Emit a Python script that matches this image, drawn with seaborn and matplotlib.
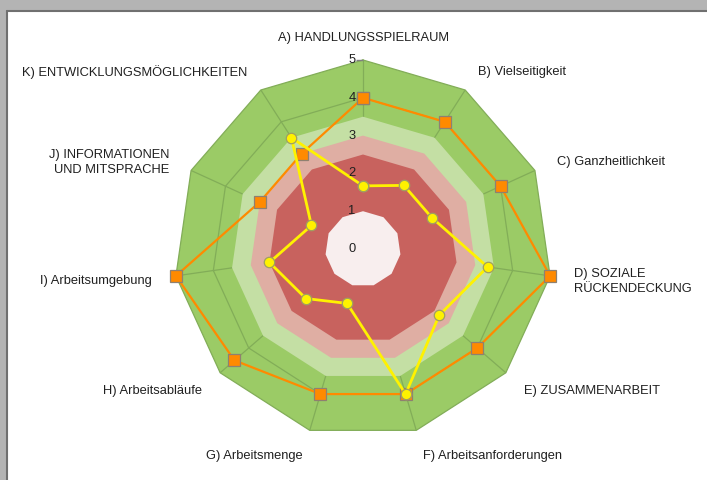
import numpy as np
import pandas as pd
import seaborn as sns
import matplotlib.pyplot as plt
from matplotlib.lines import Line2D
from matplotlib.patches import Rectangle

# chart data
categories = ["A) HANDLUNGSSPIELRAUM", "B) Vielseitigkeit", "C) Ganzheitlichkeit",
              "D) SOZIALE\nRÜCKENDECKUNG", "E) ZUSAMMENARBEIT", "F) Arbeitsanforderungen",
              "G) Arbeitsmenge", "H) Arbeitsabläufe", "I) Arbeitsumgebung",
              "J) INFORMATIONEN\nUND MITSPRACHE", "K) ENTWICKLUNGSMÖGLICHKEITEN"]
orange_values = [4, 4, 4, 5, 4, 4, 4, 4.5, 5, 3, 3]
yellow_values = [1.67, 2, 2, 3.33, 2.67, 4, 1.5, 2, 2.5, 1.5, 3.5]
tick_values = [0, 1, 2, 3, 4, 5]
band_edges = [5, 3.5, 3, 2.5, 1]
band_colors = ['#9bcb66', '#c4dfa4', '#dfaea3', '#c8625e', '#f8eeee']

sns.set_theme(style='white')
plt.rcParams['font.family'] = ['Liberation Sans', 'DejaVu Sans']

W, H = 707, 480
fig = plt.figure(figsize=(W / 100, H / 100), dpi=100)
fig.patch.set_facecolor('#b4b4b4')
# white panel with dark border on top/left (window look)
fig.patches.append(Rectangle((8 / W, 0), 1, (H - 12) / H, transform=fig.transFigure,
                             facecolor='white', edgecolor='none', zorder=-5))
fig.lines.append(Line2D([7 / W, 7 / W], [0, (H - 11) / H], transform=fig.transFigure,
                        color='#707070', lw=1.5, zorder=-4))
fig.lines.append(Line2D([7 / W, 1], [(H - 11) / H] * 2, transform=fig.transFigure,
                        color='#707070', lw=1.5, zorder=-4))

# polar axes centred at (363, 249) px, radius 5 -> 189 px
cx, cy, R = 363, H - 249, 189
ax = fig.add_axes([(cx - R) / W, (cy - R) / H, 2 * R / W, 2 * R / H], projection='polar')
ax.set_theta_zero_location('N')
ax.set_theta_direction(-1)
ax.set_ylim(0, 5)
ax.grid(False)
ax.spines['polar'].set_visible(False)
ax.set_xticks([])
ax.set_yticks([])
ax.patch.set_alpha(0)

n = len(categories)
theta = np.linspace(0, 2 * np.pi, n, endpoint=False)
theta_closed = np.append(theta, theta[0])

# outer green band
ax.fill(theta_closed, [band_edges[0]] * (n + 1), color=band_colors[0], lw=0, zorder=1)

# grid: polygons at 4 and 5, spokes, tick marks
grid_col = '#82ad58'
for lvl in [4, 5]:
    ax.plot(theta_closed, [lvl] * (n + 1), color=grid_col, lw=0.9, zorder=2, clip_on=False)
for t in theta:
    ax.plot([t, t], [0, 5], color=grid_col, lw=0.9, zorder=2)
ax.plot([0] * len(tick_values), tick_values, ls='none', marker=0, markersize=5,
        color='#808080', zorder=2, clip_on=False)

# inner bands
for edge, col in zip(band_edges[1:], band_colors[1:]):
    ax.fill(theta_closed, [edge] * (n + 1), color=col, lw=0, zorder=3)

# data series
df_orange = pd.DataFrame({'theta': theta_closed, 'value': orange_values + orange_values[:1]})
df_yellow = pd.DataFrame({'theta': theta_closed, 'value': yellow_values + yellow_values[:1]})
sns.lineplot(data=df_orange, x='theta', y='value', sort=False, estimator=None, ax=ax,
             color='#ff8a00', lw=1.6, marker='s', markersize=8,
             markeredgecolor='#8f8070', markeredgewidth=0.9, zorder=5, clip_on=False)
sns.lineplot(data=df_yellow, x='theta', y='value', sort=False, estimator=None, ax=ax,
             color='#fff200', lw=2.0, marker='o', markersize=7.5,
             markeredgecolor='#a0a060', markeredgewidth=0.9, zorder=6, clip_on=False)
ax.set_xlabel('')
ax.set_ylabel('')
ax.set_ylim(0, 5)

# radial value labels along axis A
for v in tick_values:
    ax.annotate(str(v), xy=(0, v), xytext=(-11, 0), textcoords='offset pixels',
                ha='center', va='center', fontsize=9.3, color='#202020', zorder=7)

# category labels
for t, lab in zip(theta, categories):
    s = np.sin(t)
    ha = 'left' if s > 0.05 else ('right' if s < -0.05 else 'center')
    ax.annotate(lab, xy=(t, 5.64), xytext=(0, -2), textcoords='offset pixels',
                ha=ha, va='center', multialignment=ha, linespacing=1.35,
                fontsize=9.3, color='#202020', annotation_clip=False)

fig.savefig('out.png', dpi=100, facecolor=fig.get_facecolor())
